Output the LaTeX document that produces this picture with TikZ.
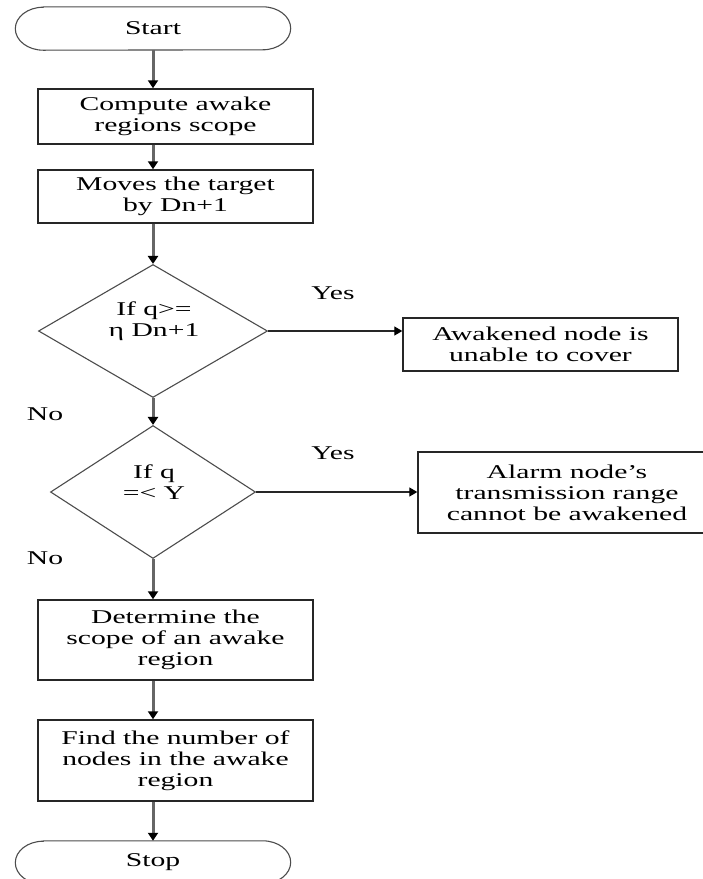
\documentclass[tikz,border=0pt]{standalone}
\usepackage{fontspec}
\setmainfont{Liberation Serif}[FakeStretch=1.52]
\usetikzlibrary{shapes.geometric,arrows.meta}
\begin{document}
\begin{tikzpicture}[x=1pt,y=1pt,
  font=\fontsize{19.5}{21}\selectfont,
  proc/.style={draw=black!85, line width=1.4pt, rectangle, inner sep=0pt, align=center, minimum width=275pt},
  term/.style={inner sep=0pt, minimum width=275pt, minimum height=43pt},
  termline/.style={draw=black!70, line width=1.1pt},
  dec/.style={draw=black!70, line width=1.1pt, diamond, inner sep=0pt},
  lbl/.style={inner sep=0pt, align=center},
  flow/.style={draw=black!60, line width=3pt, -{Triangle[length=8pt,width=10pt,color=black]}},
  side/.style={draw=black!85, line width=1.3pt, -{Triangle[length=8pt,width=9pt,color=black]}}
]
\useasboundingbox (0,0) rectangle (703,-879);

% terminals
\node[term] (start) at (153,-28.5) {Start};
\draw[termline] ([xshift=28pt]start.north west) -- ([xshift=-28pt]start.north east)
  arc[start angle=90,end angle=-90,x radius=28pt,y radius=21.5pt]
  -- ([xshift=28pt]start.south west)
  arc[start angle=270,end angle=90,x radius=28pt,y radius=21.5pt] -- cycle;

\node[term] (stop) at (153,-862.5) {Stop};
\draw[termline] ([xshift=28pt]stop.north west) -- ([xshift=-28pt]stop.north east)
  arc[start angle=90,end angle=-90,x radius=28pt,y radius=21.5pt]
  -- ([xshift=28pt]stop.south west)
  arc[start angle=270,end angle=90,x radius=28pt,y radius=21.5pt] -- cycle;

% process boxes
\node[proc, minimum height=55pt] (b1) at (175.5,-116.5) {Compute awake\\regions scope};
\node[proc, minimum height=53pt] (b2) at (175.5,-196.5) {Moves the target\\by Dn+1};
\node[proc, minimum height=53pt] (b3) at (540.5,-344.5) {Awakened node is\\unable to cover};
\node[proc, minimum height=81pt, minimum width=298pt] (b4) at (567,-492.5) {Alarm node's\\transmission range\\cannot be awakened};
\node[proc, minimum height=80pt] (b5) at (175.5,-640) {Determine the\\scope of an awake\\region};
\node[proc, minimum height=81pt] (b6) at (175.5,-760.5) {Find the number of\\nodes in the awake\\region};

% decisions
\node[dec, minimum width=229pt, minimum height=133pt] (d1) at (153,-331) {};
\node[lbl] (d1t) at (154,-321) {If q>=\\η Dn+1};
\node[dec, minimum width=205pt, minimum height=133pt] (d2) at (153,-492) {};
\node[lbl] (d2t) at (154,-482) {If q\\=< Y};

% labels
\node[lbl] (yes1) at (333,-293) {Yes};
\node[lbl] (yes2) at (333,-453) {Yes};
\node[lbl] (no1) at (45,-414) {No};
\node[lbl] (no2) at (45,-558) {No};

% connectors
\draw[flow] (start.south) -- (start.south |- b1.north);
\draw[flow] (b1.south -| start.south) -- (b2.north -| start.south);
\draw[flow] (b2.south -| start.south) -- (d1.north);
\draw[flow] (d1.south) -- (d2.north);
\draw[flow] (d2.south) -- (b5.north -| d2.south);
\draw[flow] (b5.south -| d2.south) -- (b6.north -| d2.south);
\draw[flow] (b6.south -| d2.south) -- (stop.north -| d2.south);
\draw[side] (d1.east) -- (d1.east -| b3.west);
\draw[side] (d2.east) -- (d2.east -| b4.west);
\end{tikzpicture}
\end{document}
